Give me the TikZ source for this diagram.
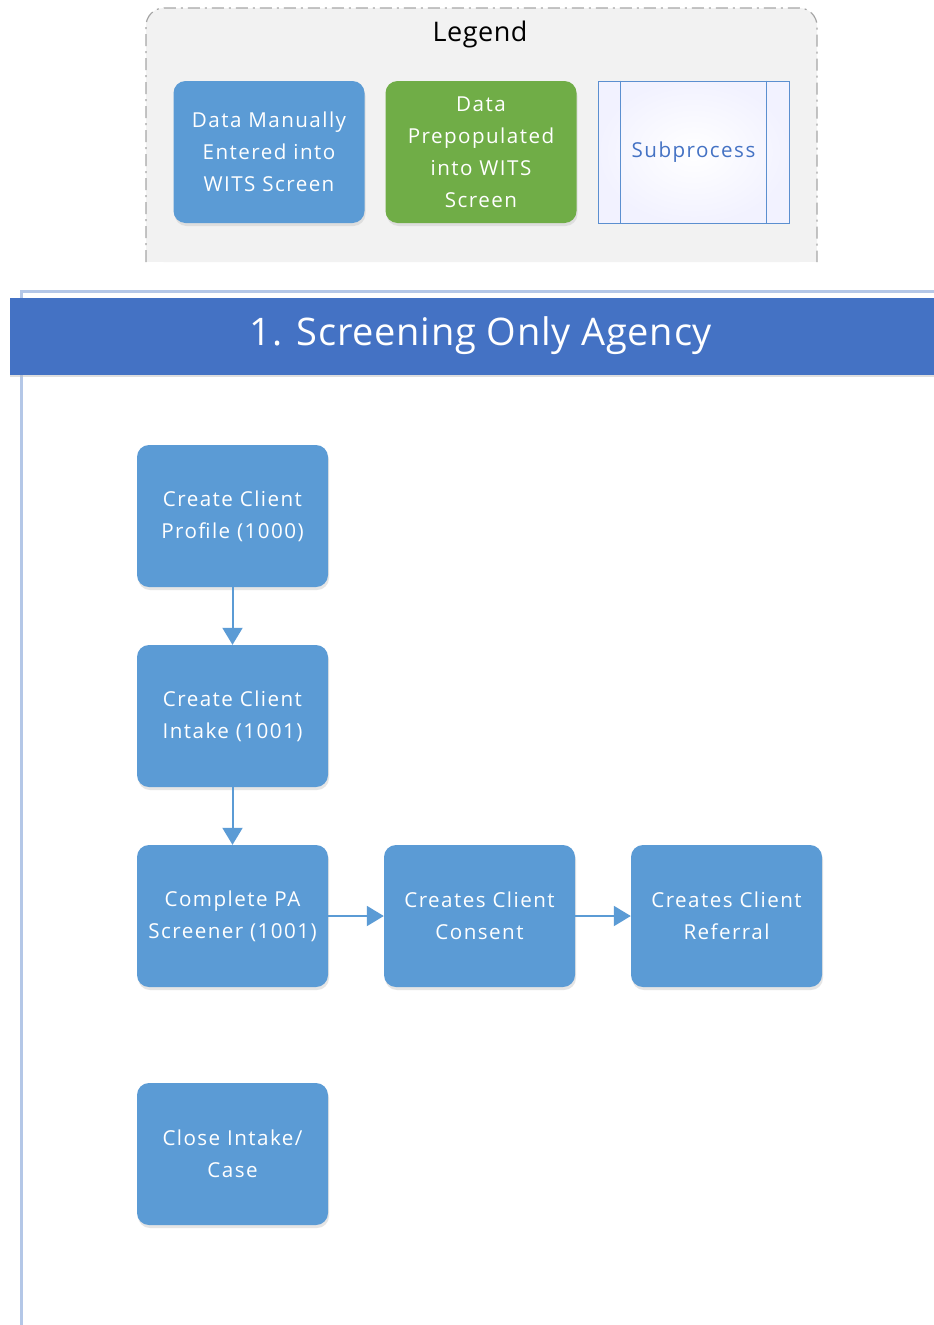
\documentclass[tikz,border=0pt]{standalone}
\usepackage{fontspec}
\setmainfont{Open Sans}
\newfontfamily\boxfont[LetterSpace=7]{Open Sans}
\newfontfamily\headfont[LetterSpace=2]{Open Sans}
\usetikzlibrary{arrows.meta,shadows}
\definecolor{procblue}{HTML}{5B9BD5}
\definecolor{procgreen}{HTML}{70AD47}
\definecolor{headblue}{HTML}{4472C4}
\definecolor{poolline}{HTML}{B4C7E7}
\definecolor{legendfill}{HTML}{F2F2F2}
\definecolor{legendline}{HTML}{A6A6A6}
\definecolor{subline}{HTML}{5B8FD0}
\tikzset{
  proc/.style={rounded corners=12pt, fill=procblue, draw=none,
    minimum width=191pt, minimum height=142pt, text width=181pt, inner xsep=3pt, align=center,
    text=white, font=\boxfont\fontsize{20.6}{32}\selectfont,
    drop shadow={shadow xshift=1pt, shadow yshift=-3pt, fill=gray!40, opacity=0.5}},
  prefilled/.style={proc, fill=procgreen},
  subproc/.style={draw=subline, line width=1pt, inner color=white, outer color=blue!5,
    minimum width=191pt, minimum height=142pt, text width=150pt, align=center,
    text=headblue, font=\boxfont\fontsize{20.6}{32}\selectfont},
  flow/.style={draw=procblue, line width=2pt, -{Triangle[length=17pt,width=20pt]}}
}
\begin{document}
\begin{tikzpicture}[x=1pt,y=-1pt]
\useasboundingbox (0,0) rectangle (934,1325);
\fill[white] (0,0) rectangle (934,1325);

% legend panel
\fill[legendfill, rounded corners=18pt] (146,262) -- (146,8) -- (817,8) -- (817,262) -- cycle;
\fill[legendfill] (146,240) rectangle (817,262);
\draw[legendline, line width=1.2pt, dash pattern=on 12pt off 5pt on 2pt off 5pt, rounded corners=18pt]
  (146,262) -- (146,8) -- (817,8) -- (817,262);
\node[font=\headfont\fontsize{27}{30}\selectfont] (legendtitle) at (480,34) {Legend};
\node[proc] (lmanual) at (269,152) {Data Manually\\Entered into\\WITS Screen};
\node[prefilled] (lprefill) at (481,152) {Data\\Prepopulated\\into WITS\\Screen};
\node[subproc] (lsub) at (693.5,152) {Subprocess};
\draw[subline, line width=1pt] ([xshift=23pt]lsub.north west) -- ([xshift=23pt]lsub.south west);
\draw[subline, line width=1pt] ([xshift=-23pt]lsub.north east) -- ([xshift=-23pt]lsub.south east);

% pool frame and header
\draw[poolline, line width=3pt] (21,1325) -- (21,291) -- (934,291);
\fill[headblue, drop shadow={shadow xshift=0pt, shadow yshift=-2pt, fill=gray!50, opacity=0.5}]
  (10,298) rectangle (934,375);
\node[text=white, font=\headfont\fontsize{38}{40}\selectfont] (pooltitle) at (481,336) {1. Screening Only Agency};

% process steps
\node[proc] (profile) at (232.5,516) {Create Client\\Profile (1000)};
\node[proc] (intake) at (232.5,716) {Create Client\\Intake (1001)};
\node[proc] (screener) at (232.5,916) {Complete PA\\Screener (1001)};
\node[proc] (consent) at (479.5,916) {Creates Client\\Consent};
\node[proc] (referral) at (726.5,916) {Creates Client\\Referral};
\node[proc] (close) at (232.5,1154) {Close Intake/\\Case};

% connectors
\draw[flow] (profile) -- (intake);
\draw[flow] (intake) -- (screener);
\draw[flow] (screener) -- (consent);
\draw[flow] (consent) -- (referral);
\end{tikzpicture}
\end{document}
